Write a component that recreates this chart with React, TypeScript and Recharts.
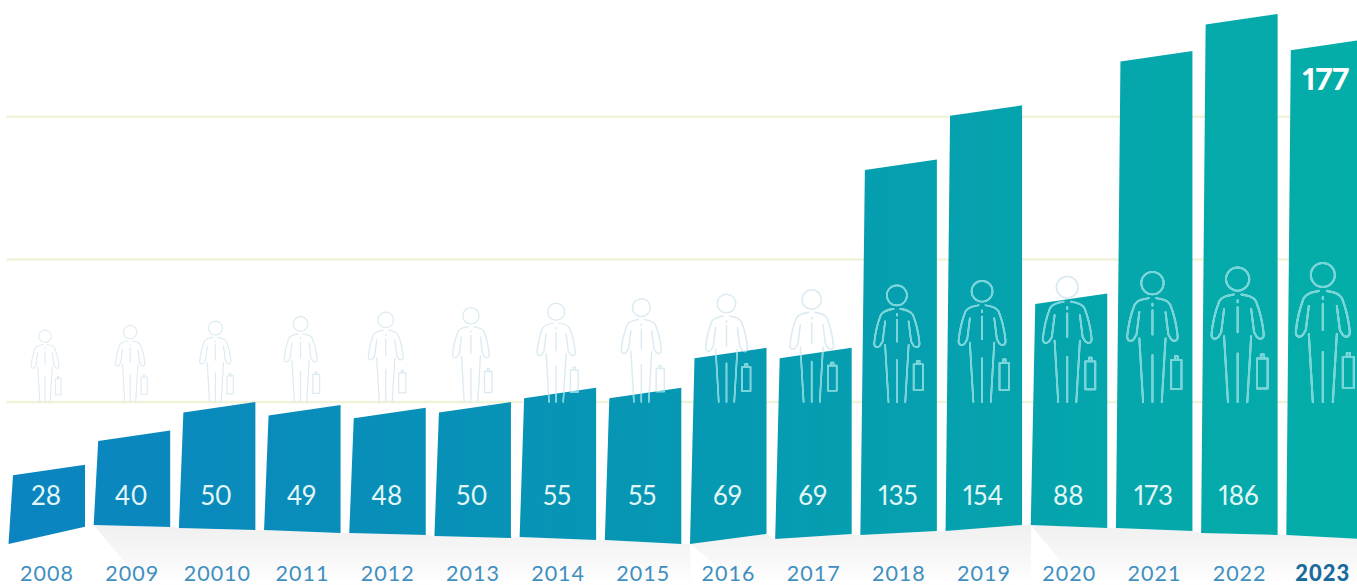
import React from 'react';
import { BarChart, Bar, XAxis, YAxis, CartesianGrid, LabelList } from 'recharts';

const years = ['2008','2009','20010','2011','2012','2013','2014','2015','2016','2017','2018','2019','2020','2021','2022','2023'];
const hires = [28,40,50,49,48,50,55,55,69,69,135,154,88,173,186,177];
const gridValues = [50,100,150];
const rows = years.map((year, i) => ({ year, hires: hires[i] }));

// decorative ribbon offsets of the bars' lower edge (px above the zero line)
const liftLeft = [0.7,19.7,16.7,14.7,11.7,8.7,7.7,4.7,0.7,5.7,9.7,13.7,19.7,16.7,11.7,9.7];
const liftRight = [18,17.7,14.7,11.7,9.7,6.7,4.7,0.7,10.7,10.7,13.7,19.7,16.7,13.7,9.7,5.7];
const shadowStarts = [1, 8, 12];

const SLANT = 10.5;
const FLARE = 4.5;

const Figure = ({ cx, foot, s, stroke }: any) => (
  <g transform={`translate(${cx},${foot}) scale(${s})`} fill="none" stroke={stroke} strokeWidth={2} strokeLinecap="round" strokeLinejoin="round">
    <circle cx={0} cy={-127} r={12} />
    <path d="M-4,-111 C-10,-110 -16,-109 -19,-104 C-23,-94 -26,-80 -27,-70 C-27,-65 -23,-64 -20,-67 L-17,-72 L-14,-96 M-14,-68 L-10,0 M4,-111 C10,-110 16,-109 19,-104 C23,-94 26,-80 27,-70 C27,-65 23,-64 20,-67 L17,-72 L14,-96 M14,-68 L10,0 M0,-50 L0,0 M0,-98 L0,-72 M0,-105 L0,-103" />
    <path d="M20,-14 L31,-14 L31,-45 L20,-45 Z M24,-45 L24,-49 L27,-49 L27,-45" />
  </g>
);

const TaperedBar = (props: any) => {
  const { x, y, width, height, index } = props;
  const base = y + height;
  const bl = { x: x - FLARE, y: base - liftLeft[index] };
  const br = { x: x + width, y: base - liftRight[index] };
  const pts = `${x},${y + SLANT} ${x + width},${y} ${br.x},${br.y} ${bl.x},${bl.y}`;
  const cx = x + width / 2 - 4;
  const s = (72 + index * 4.47) / 139;
  const starts = shadowStarts.includes(index);
  const nextLift = liftLeft[index + 1] ?? liftRight[index];
  const nextX = x + width + 9;
  return (
    <g>
      {index > 0 && (
        <polygon
          points={`${bl.x},${bl.y} ${br.x},${br.y} ${nextX},${base - nextLift} ${nextX},585 ${starts ? bl.x + 50 : bl.x},585`}
          fill="url(#floor)"
        />
      )}
      <polygon points={pts} fill="url(#ribbon)" />
      <clipPath id={`barclip-${index}`}><polygon points={pts} /></clipPath>
      <Figure cx={cx} foot={402} s={s} stroke="#dcebf2" />
      <g clipPath={`url(#barclip-${index})`}>
        <Figure cx={cx} foot={402} s={s} stroke="#74d6d9" />
      </g>
    </g>
  );
};

const ValueLabel = (props: any) => {
  const { x, width, value, index } = props;
  const last = index === years.length - 1;
  return (
    <text
      x={x + width / 2 + (last ? -1 : -3)}
      y={last ? 90 : 505}
      textAnchor="middle"
      fill={last ? '#ffffff' : '#e3f6f7'}
      fontFamily="Lato"
      fontWeight={last ? 900 : 400}
      fontSize={last ? 31 : 26}
      style={{ fontFeatureSettings: '"pnum"' }}
    >
      {value}
    </text>
  );
};

const YearTick = (props: any) => {
  const { x, payload, index } = props;
  const last = index === years.length - 1;
  return (
    <text
      x={x + (last ? -4 : -2)}
      y={580.5}
      textAnchor="middle"
      fill={last ? '#1a6a9c' : '#3f8fbf'}
      fontFamily="Lato"
      fontWeight={last ? 900 : 400}
      fontSize={last ? 22 : 21.5}
      letterSpacing={1}
    >
      {payload.value}
    </text>
  );
};

export default function App() {
  return (
    <div style={{ position: 'absolute', left: 0, top: 0, width: 1357, height: 585, overflow: 'hidden', background: '#fff' }}>
      <BarChart
        width={1380}
        height={585}
        data={rows}
        barCategoryGap="7.75%"
        margin={{ top: 2.6, right: 10.6, bottom: 0, left: 6.4 }}
      >
        <defs>
          <linearGradient id="ribbon" gradientUnits="userSpaceOnUse" x1={0} y1={0} x2={1357} y2={0}>
            <stop offset="0" stopColor="#0b84c0" />
            <stop offset="0.5" stopColor="#0698b3" />
            <stop offset="1" stopColor="#04aea8" />
          </linearGradient>
          <linearGradient id="floor" gradientUnits="userSpaceOnUse" x1={0} y1={525} x2={0} y2={585}>
            <stop offset="0" stopColor="#f0f0f1" />
            <stop offset="0.6" stopColor="#f8f8f8" />
            <stop offset="1" stopColor="#ffffff" />
          </linearGradient>
        </defs>
        <CartesianGrid horizontal vertical={false} horizontalValues={gridValues} syncWithTicks stroke="#eef3da" strokeWidth={2.5} />
        <YAxis hide width={0} domain={[0, 190]} ticks={gridValues} />
        <XAxis dataKey="year" height={40.3} interval={0} axisLine={false} tickLine={false} tick={YearTick} />
        <Bar dataKey="hires" isAnimationActive={false} shape={TaperedBar}>
          <LabelList dataKey="hires" content={ValueLabel} />
        </Bar>
      </BarChart>
    </div>
  );
}
